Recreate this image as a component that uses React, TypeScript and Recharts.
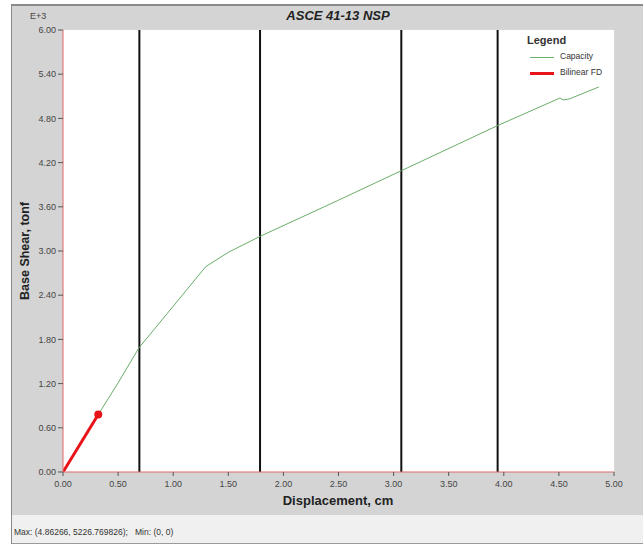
import { LineChart, Line, XAxis, YAxis, CartesianGrid, ReferenceLine } from 'recharts';

// displacement (cm) / base shear (tonf)
const capacityDisp = [0, 0.32, 0.5, 0.69, 1.0, 1.295, 1.5, 1.79, 2.5, 3.07, 3.94, 4.51, 4.54, 4.6, 4.86266];
const capacityShear = [0, 780, 1210, 1687, 2250, 2787, 2982, 3200, 3690, 4090, 4700, 5077, 5050, 5067, 5226.77];

const bilinearDisp = [0, 0.32];
const bilinearShear = [0, 780];

const markerDisp = [0.693, 1.788, 3.07, 3.944];

const xTicks = [0, 0.5, 1, 1.5, 2, 2.5, 3, 3.5, 4, 4.5, 5];
const yTicks = [0, 600, 1200, 1800, 2400, 3000, 3600, 4200, 4800, 5400, 6000];

const capacity = capacityDisp.map((x, i) => ({ x, y: capacityShear[i] }));
const bilinear = bilinearDisp.map((x, i) => ({ x, y: bilinearShear[i] }));

const font = '"Liberation Sans", Arial, sans-serif';
const tickStyle = { fontSize: 9, fill: '#444', fontFamily: font };

function EndDot(props: any) {
  const { cx, cy, index } = props;
  if (index !== bilinear.length - 1) return <g key={`d${index}`} />;
  return <circle key={`d${index}`} cx={cx} cy={cy} r={4} fill="#e8141a" stroke="none" />;
}

export default function App() {
  return (
    <div style={{ position: 'absolute', left: 0, top: 0, width: 643, height: 544, background: '#fff', fontFamily: font }}>
      {/* frame */}
      <div style={{ position: 'absolute', left: 11, top: 4, width: 632, height: 511, background: '#d4d4d4', borderTop: '2px solid #8a8a8a', borderLeft: '1px solid #8a8a8a', boxSizing: 'border-box' }} />
      <div style={{ position: 'absolute', left: 11, top: 515, width: 632, height: 29, background: '#f0f0f0', borderLeft: '1px solid #8a8a8a', borderBottom: '1px solid #9a9a9a', boxSizing: 'border-box' }} />
      <div style={{ position: 'absolute', left: 14, top: 527, fontSize: 8.5, color: '#333' }}>
        Max: (4.86266, 5226.769826);&nbsp;&nbsp; Min: (0, 0)
      </div>

      <div style={{ position: 'absolute', left: 0, top: 0 }}>
        <LineChart width={643} height={515} margin={{ top: 30, right: 29, left: 13, bottom: 23 }}>
          <rect x={63} y={30} width={551} height={442} fill="#fff" />
          <CartesianGrid stroke="#dcdcdc" strokeWidth={1} />
          <XAxis
            type="number"
            dataKey="x"
            domain={[0, 5]}
            ticks={xTicks}
            tickFormatter={(v: number) => v.toFixed(2)}
            allowDataOverflow
            height={20}
            axisLine={{ stroke: '#e06666', strokeWidth: 1 }}
            tickLine={{ stroke: '#555' }}
            tickSize={4}
            tickMargin={5}
            tick={tickStyle}
          />
          <YAxis
            type="number"
            dataKey="y"
            domain={[0, 6000]}
            ticks={yTicks}
            tickFormatter={(v: number) => (v / 1000).toFixed(2)}
            allowDataOverflow
            width={50}
            axisLine={{ stroke: '#e06666', strokeWidth: 1 }}
            tickLine={{ stroke: '#555' }}
            tickSize={5}
            tick={tickStyle}
          />
          {markerDisp.map((d) => (
            <ReferenceLine key={d} x={d} stroke="#111" strokeWidth={2} />
          ))}
          <Line data={capacity} dataKey="y" stroke="#6aae6a" strokeWidth={1} dot={false} isAnimationActive={false} />
          <Line data={bilinear} dataKey="y" stroke="#e8141a" strokeWidth={3} dot={EndDot} isAnimationActive={false} />
        </LineChart>
      </div>

      {/* titles */}
      <div style={{ position: 'absolute', left: 0, width: 676, top: 8, textAlign: 'center', fontSize: 13, fontWeight: 'bold', fontStyle: 'italic', color: '#222' }}>
        ASCE 41-13 NSP
      </div>
      <div style={{ position: 'absolute', left: 30, top: 11, fontSize: 9, color: '#444' }}>E+3</div>
      <div style={{ position: 'absolute', left: 0, width: 676, top: 493, textAlign: 'center', fontSize: 13, fontWeight: 'bold', color: '#222' }}>
        Displacement, cm
      </div>
      <div style={{ position: 'absolute', left: 25, top: 251, transform: 'translate(-50%, -50%) rotate(-90deg)', whiteSpace: 'nowrap', fontSize: 12.5, fontWeight: 'bold', color: '#222' }}>
        Base Shear, tonf
      </div>

      {/* legend */}
      <div style={{ position: 'absolute', left: 506, top: 31, width: 107, height: 52, background: '#fff' }}>
        <div style={{ position: 'absolute', left: 21, top: 3, fontSize: 11, fontWeight: 'bold', color: '#333' }}>Legend</div>
        <div style={{ position: 'absolute', left: 24, top: 26, width: 24, height: 1, background: '#6aae6a' }} />
        <div style={{ position: 'absolute', left: 54, top: 20, fontSize: 8.5, color: '#333' }}>Capacity</div>
        <div style={{ position: 'absolute', left: 24, top: 41, width: 24, height: 3, background: '#e8141a' }} />
        <div style={{ position: 'absolute', left: 54, top: 36, fontSize: 8.5, color: '#333' }}>Bilinear FD</div>
      </div>
    </div>
  );
}
